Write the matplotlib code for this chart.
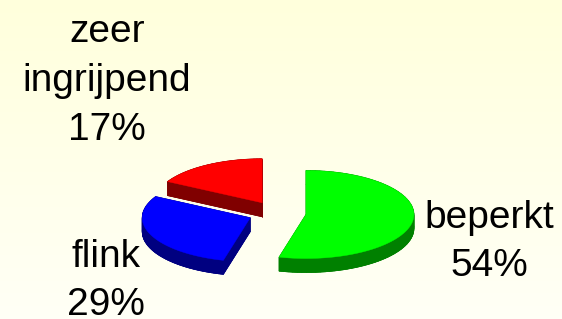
import matplotlib.pyplot as plt
import numpy as np
from matplotlib.colors import LinearSegmentedColormap

labels = ["beperkt", "flink", "zeer\ningrijpend"]
values = [54, 29, 17]
top_colors = ["#00ff00", "#0000ff", "#ff0000"]
side_colors = ["#008000", "#000080", "#800000"]
label_pos = [(489, 242), (106, 281), (107, 81)]

plt.rcParams['font.family'] = ['Liberation Sans', 'DejaVu Sans']

W, H = 562, 319
fig = plt.figure(figsize=(W / 100, H / 100), dpi=100)
ax = fig.add_axes([0, 0, 1, 1])
ax.set_xlim(0, W)
ax.set_ylim(H, 0)
ax.axis('off')

# light yellow background fading to white
bg = LinearSegmentedColormap.from_list("bg", ["#ffffdc", "#fffff6"])
ax.imshow(np.linspace(0, 1, 100).reshape(-1, 1), cmap=bg, aspect='auto',
          extent=[0, W, H, 0], zorder=0)

# pie geometry (screen pixels)
cx, cy = 277, 213
rx, ry = 108, 44
depth = 14
explode = 0.27

start = 90.0
order = []
for i, v in enumerate(values):
    span = v / sum(values) * 360
    a0, a1 = start - span, start
    start = a0
    order.append((i, a0, a1))

# draw back slices first
def mid_y(item):
    i, a0, a1 = item
    return -np.sin(np.radians((a0 + a1) / 2))
order.sort(key=mid_y)

for i, a0, a1 in order:
    m = np.radians((a0 + a1) / 2)
    ox = cx + explode * rx * np.cos(m)
    oy = cy - explode * ry * np.sin(m)
    t = np.radians(np.linspace(a0, a1, 80))
    xs = np.concatenate([[ox], ox + rx * np.cos(t), [ox]])
    ys = np.concatenate([[oy], oy - ry * np.sin(t), [oy]])
    # extruded sides
    ax.fill(xs, ys + depth, color=side_colors[i], lw=0.5, zorder=2)
    for k in range(len(xs) - 1):
        qx = [xs[k], xs[k + 1], xs[k + 1], xs[k]]
        qy = [ys[k], ys[k + 1], ys[k + 1] + depth, ys[k] + depth]
        ax.fill(qx, qy, color=side_colors[i], lw=0.5, zorder=2)
    ax.fill(xs, ys, color=top_colors[i], lw=0.3, zorder=3)

for i, lab in enumerate(labels):
    x, y = label_pos[i]
    ax.text(x, y, f"{lab}\n{values[i]}%", ha='center', va='center',
            fontsize=28, linespacing=1.45, color='black', zorder=4)

fig.savefig("out.png", dpi=100)
